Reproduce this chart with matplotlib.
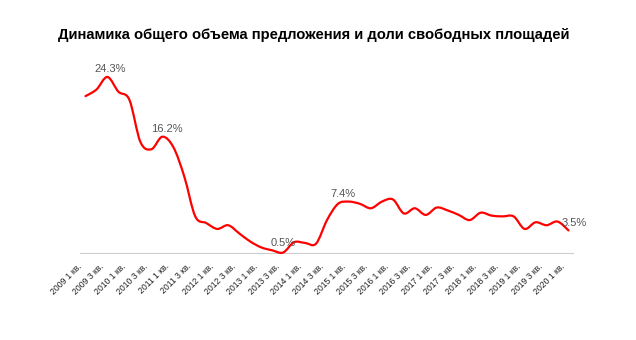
import matplotlib
matplotlib.use('Agg')
import matplotlib.pyplot as plt
import matplotlib.transforms as mtransforms
import numpy as np
from matplotlib.path import Path
from matplotlib.patches import PathPatch

plt.rcParams['font.family'] = ['Liberation Sans', 'DejaVu Sans']

# quarterly share of vacant space, %, 2009 Q1 .. 2020 Q1
years = [y for y in range(2009, 2021) for q in range(4)][:45]
quarters = [q for y in range(2009, 2021) for q in range(1, 5)][:45]
vacancy = [21.7, 22.6, 24.3, 22.3, 21.2, 15.5, 14.5, 16.2, 14.8, 10.8,
           5.4, 4.5, 3.7, 4.2, 3.1, 2.0, 1.2, 0.8, 0.5, 1.9,
           1.8, 1.7, 4.9, 7.1, 7.4, 7.1, 6.5, 7.4, 7.7, 5.8,
           6.5, 5.6, 6.6, 6.2, 5.6, 4.9, 5.9, 5.5, 5.4, 5.4,
           3.7, 4.6, 4.2, 4.7, 3.5]
labels = ['%d %d кв.' % (y, q) for y, q in zip(years, quarters)]

# points that carry a value label, with label offsets (points)
annotated = [2, 7, 18, 24, 44]
ann_offsets = [(2, 2), (3, 2), (0, 3), (-4, 2), (4, 2)]

fig = plt.figure(figsize=(6.36, 3.4), dpi=100)
ax = fig.add_axes([80 / 636, (340 - 254) / 340, 494 / 636, 194 / 340])

# smooth curve (Catmull-Rom as cubic Bezier segments)
x = np.arange(len(vacancy), dtype=float)
y = np.array(vacancy, dtype=float)
px = np.concatenate([[x[0]], x, [x[-1]]])
py = np.concatenate([[y[0]], y, [y[-1]]])
verts = [(x[0], y[0])]
codes = [Path.MOVETO]
for i in range(len(x) - 1):
    j = i + 1
    c1 = (px[j] + (px[j + 1] - px[j - 1]) / 6, py[j] + (py[j + 1] - py[j - 1]) / 6)
    c2 = (px[j + 1] - (px[j + 2] - px[j]) / 6, py[j + 1] - (py[j + 2] - py[j]) / 6)
    verts += [c1, c2, (x[i + 1], y[i + 1])]
    codes += [Path.CURVE4] * 3
ax.add_patch(PathPatch(Path(verts, codes), facecolor='none', edgecolor='#ff0000',
                       lw=1.6, capstyle='round', joinstyle='round', zorder=3))

for i, off in zip(annotated, ann_offsets):
    ax.annotate('%.1f%%' % vacancy[i], (x[i], y[i]), xytext=off,
                textcoords='offset points', ha='center', va='bottom',
                fontsize=8, color='#555555', zorder=4)

ax.set_xlim(-0.5, len(vacancy) - 0.5)
ax.set_ylim(0.3, 26.6)
ax.axhline(0.3, color='#cccccc', lw=1.5, zorder=1)

ax.set_xticks(x[::2])
ax.set_xticklabels(labels[::2], rotation=45, ha='right', rotation_mode='anchor',
                   fontsize=6.2, color='#222222')
ax.tick_params(axis='x', length=0, pad=6)
offset = mtransforms.ScaledTranslation(-6 / 72, 0.5 / 72, fig.dpi_scale_trans)
for lab in ax.get_xticklabels():
    lab.set_transform(lab.get_transform() + offset)
ax.set_yticks([])
for s in ax.spines.values():
    s.set_visible(False)

fig.text(313.5 / 636, 1 - 35 / 340, 'Динамика общего объема предложения и доли свободных площадей',
         ha='center', va='center', fontsize=10.6, fontweight='bold', color='#000000')

fig.savefig('out.png', dpi=100)
